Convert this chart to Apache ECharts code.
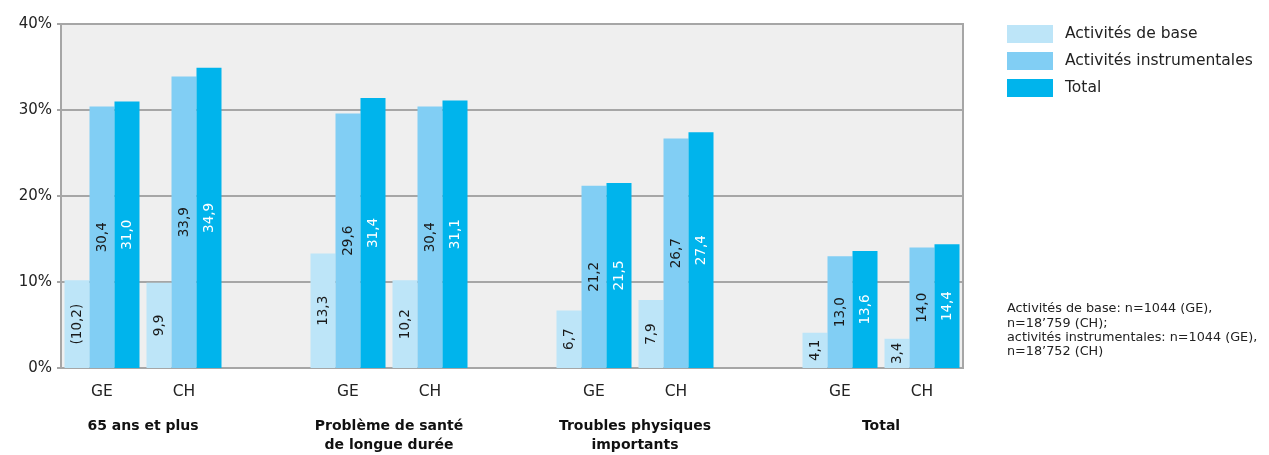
<!DOCTYPE html>
<html>
<head>
<meta charset="utf-8">
<style>
    html,body{margin:0;padding:0;background:#fff;}
    #chart{width:1269px;height:455px;}
</style>
<script src="https://cdn.jsdelivr.net/npm/echarts@6/dist/echarts.min.js"></script>
</head>
<body>
<div id="chart"></div>
<script>
// emplacements vides entre les groupes
var categories = ['GE', 'CH', '', 'GE', 'CH', '', 'GE', 'CH', '', 'GE', 'CH'];
var groupNames = ['65 ans et plus', 'Problème de santé\nde longue durée', 'Troubles physiques\nimportants', 'Total'];
var seriesNames = ['Activités de base', 'Activités instrumentales', 'Total'];
var base  = [10.2, 9.9, null, 13.3, 10.2, null, 6.7, 7.9, null, 4.1, 3.4];
var instr = [30.4, 33.9, null, 29.6, 30.4, null, 21.2, 26.7, null, 13.0, 14.0];
var total = [31.0, 34.9, null, 31.4, 31.1, null, 21.5, 27.4, null, 13.6, 14.4];
var baseBracketed = [0];   // valeur entre parenthèses
var yTicks = [0, 10, 20, 30, 40];
var note = 'Activités de base: n=1044 (GE),\nn=18\u2019759 (CH);\nactivités instrumentales: n=1044 (GE),\nn=18\u2019752 (CH)';

(function() {
    var FONT = '"DejaVu Sans", sans-serif';
    var colors = ['#bde5f8', '#81cef4', '#00b4ec'];
    var axisGray = '#a6a6a6';

    function fmt(v) {
        return v.toFixed(1).replace('.', ',');
    }

    function bar(name, data, color, labelColor, bracketed) {
        return {
            name: name,
            type: 'bar',
            data: data,
            barWidth: 25,
            barGap: '0%',
            itemStyle: { color: color },
            label: {
                show: true,
                position: 'inside',
                rotate: 90,
                fontFamily: FONT,
                fontSize: 13.5,
                color: labelColor,
                formatter: function(p) {
                    var s = fmt(p.value);
                    return (bracketed && bracketed.indexOf(p.dataIndex) >= 0) ? '(' + s + ')' : s;
                }
            }
        };
    }

    // position du nom de groupe : milieu entre GE et CH (échelle doublée 0..22)
    var groupPos = {};
    for (var g = 0; g < groupNames.length; g++) {
        groupPos[g * 6 + 2] = groupNames[g];
    }

    var myChart = echarts.init(document.getElementById('chart'));
    myChart.setOption({
        animation: false,
        textStyle: { fontFamily: FONT },
        grid: {
            left: 61, right: 306, top: 24, bottom: 87,
            show: true,
            backgroundColor: '#efefef',
            borderColor: axisGray,
            borderWidth: 2
        },
        legend: {
            orient: 'vertical',
            left: 1007,
            top: 25,
            padding: 0,
            itemWidth: 46,
            itemHeight: 18,
            itemGap: 9,
            icon: 'rect',
            data: seriesNames,
            textStyle: { fontFamily: FONT, fontSize: 15.5, color: '#222', padding: [0, 0, 0, 7] }
        },
        xAxis: [{
            type: 'category',
            data: categories,
            axisLine: { lineStyle: { color: axisGray, width: 2 } },
            axisTick: { show: false },
            axisLabel: { fontFamily: FONT, fontSize: 15.5, color: '#222', margin: 16 }
        }, {
            type: 'value',
            min: 0,
            max: 22,
            interval: 1,
            position: 'bottom',
            axisLine: { show: false },
            axisTick: { show: false },
            splitLine: { show: false },
            axisLabel: {
                margin: 49,
                fontFamily: FONT,
                fontSize: 14,
                fontWeight: 'bold',
                color: '#111',
                lineHeight: 19,
                verticalAlign: 'top',
                formatter: function(v) { return groupPos[v] || ''; }
            }
        }],
        yAxis: {
            type: 'value',
            min: yTicks[0],
            max: yTicks[yTicks.length - 1],
            interval: 10,
            axisLine: { show: true, lineStyle: { color: axisGray, width: 2 } },
            axisTick: { show: true, length: 4, lineStyle: { color: axisGray, width: 2 } },
            splitLine: { lineStyle: { color: axisGray, width: 2 } },
            axisLabel: { fontFamily: FONT, fontSize: 15, color: '#222', margin: 9, formatter: '{value}%' }
        },
        series: [
            bar(seriesNames[0], base, colors[0], '#1a1a1a', baseBracketed),
            bar(seriesNames[1], instr, colors[1], '#1a1a1a'),
            bar(seriesNames[2], total, colors[2], '#ffffff')
        ],
        graphic: [{
            type: 'text',
            left: 1007,
            top: 302,
            style: {
                text: note,
                fontFamily: FONT,
                fontSize: 12.8,
                lineHeight: 14.3,
                fill: '#222'
            }
        }]
    });
})();
</script>
</body>
</html>
